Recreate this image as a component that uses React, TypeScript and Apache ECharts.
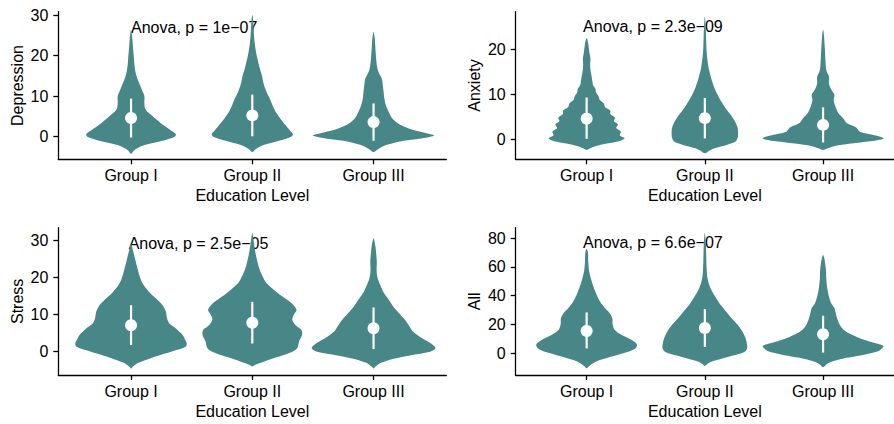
import React, { useEffect, useRef } from "react";
import * as echarts from "echarts";

// ---------- data ----------
const groups = ["Group I", "Group II", "Group III"];
const yTitles = ["Depression", "Anxiety", "Stress", "All"];
const xTitle = "Education Level";
const pLabels = ["Anova, p = 1e\u221207", "Anova, p = 2.3e\u221209", "Anova, p = 2.5e\u221205", "Anova, p = 6.6e\u221207"];
const labelX = [1, 0.97, 0.98, 0.97];
const labelY = [27, 25, 29, 76.8];
const yTicks = [[0, 10, 20, 30], [0, 10, 20], [0, 10, 20, 30], [0, 20, 40, 60, 80]];
const yRanges = [[-5.57, 30.82], [-4.44, 28.36], [-6.26, 33.33], [-15.34, 87.38]];

// violin profiles: [value, half-width in hundredths of a group spacing]
const depG1 = [[-4.2,0],[-3.5,2],[-3,4],[-2,12],[-1,26],[0,36],[0.6,37],[1.5,33],[3,26],[4.5,20],[6,14],[7,11.5],[8.5,11],[10,11],[11.5,9],[13,7],[14.5,5],[16,3.6],[18,2.7],[20,2.2],[22,1.6],[24,1.1],[26.3,0]];
const depG2 = [[-3.75,0],[-3,3],[-2,10],[-1,22],[0,32],[0.6,33.5],[1.5,31],[3,27],[4.5,23],[6,19.5],[7.5,17],[9,15],[10.5,12.5],[12,10.5],[13.5,9],[15,8],[16.5,6.5],[18,5.2],[19.5,4],[21,3],[23,2],[25,1.4],[27,1],[29,0.6],[30,0]];
const depG3 = [[-3.75,0],[-3,4],[-2,11],[-1,25],[-0.5,38],[0.3,50],[1,42],[1.7,32],[2.5,25],[3.3,20],[4.5,15.5],[5.8,13],[7.5,10.5],[9.2,9],[11,8.3],[12.5,7.7],[14.2,6.9],[15.2,5.3],[16.3,3.6],[17.5,2.8],[19,2.2],[21,1.7],[22.5,1.4],[24.5,0.9],[25.8,0]];

const anxG1 = [[-2.4,0],[-2,3],[-1.5,8],[-1,16],[-0.5,26],[0.2,32],[0.9,28],[1.7,29],[2.5,25],[3.3,26.5],[4,23],[4.8,24],[5.6,20],[6.4,20],[7.2,15.5],[8,14.5],[8.8,11],[9.6,10],[10.4,8],[11.2,7.5],[12,5.5],[13,4.8],[14,4.2],[15,3.5],[16,3],[17,3],[18,3.2],[19,2.5],[20,2],[21,1.5],[22,0.8],[22.5,0]];
const anxG2 = [[-3.1,0],[-2.5,4],[-2,8],[-1.2,19],[-0.5,26],[0.6,28],[2.8,27.5],[5,23],[7.3,16.5],[9.5,11.5],[11.7,7.7],[13.9,5],[16.1,3],[19.1,1.6],[22,1.1],[25,0.7],[27.3,0]];
const anxG3 = [[-2.4,0],[-2,4],[-1.5,10],[-1,22],[-0.5,38],[0.2,51],[1,42],[1.7,31],[2.6,28],[3.6,20],[4.7,17],[5.8,13],[7.3,10.5],[8.7,9],[9.9,9.6],[11,7],[12.4,5],[13.9,5],[15.4,2.7],[17.6,2],[20.6,1.4],[23,0.8],[24.4,0]];

const strG1 = [[-4.5,0],[-4,1.6],[-3,6],[-2,14],[-1,23],[0,33],[1.3,45],[2.2,46],[3.3,44.5],[4.5,42.5],[6.25,37],[7.6,31.6],[8.9,29.7],[10.7,28.8],[12.5,26],[14.3,20.6],[16,15],[18.3,9.6],[20.5,6.9],[22.8,5],[25,3.3],[27.2,1.6],[29,0]];
const strG2 = [[-4,0],[-3.6,2],[-3,7],[-2,15],[-1,24.7],[0,33],[0.9,37],[2.7,38.5],[4.5,41],[5.8,40.7],[7.1,35.7],[8.5,33],[9.8,34],[11.2,36.5],[12.5,34],[13.8,29.4],[15.2,23.4],[17,16.5],[18.75,11],[21,7.4],[23.2,5],[25.9,3],[28.6,1.6],[30.5,0.8],[32,0]];
const strG3 = [[-4.5,0],[-4,1.6],[-3,6],[-2,15],[-1,30],[0,46.7],[0.5,50],[1.1,51],[2.2,47.5],[3.6,40],[5.4,32.5],[7.1,29],[8.9,25],[10.7,20],[12.5,15.5],[14.3,11.8],[16,8.2],[17.9,5.5],[19.6,3.5],[21,2.7],[22.3,2.5],[24.1,2.7],[26.3,2.2],[28.6,1.4],[30.5,0]];

const allG1 = [[-10.6,0],[-9,2.2],[-6,8],[-3,19],[0,31.6],[3,41],[6,42.6],[9.4,37.4],[12.9,29],[16.3,23.6],[19.8,22],[24.4,21.7],[27.8,19.5],[31.3,15.4],[35.9,11.3],[40.5,8.5],[46.2,5.8],[52,3.6],[56.6,2.2],[63.4,1.4],[70.3,1.1],[72.6,0]];
const allG2 = [[-9,0],[-8,1.6],[-6,6],[-4,14],[-2,23],[0,31.6],[1,34],[3,35.7],[6,35.7],[10.6,34.3],[15.2,31.6],[19.8,27.5],[24.4,22.5],[29,17.9],[33.6,13.2],[38.2,9.6],[43.9,5.5],[48.5,3.3],[54.3,1.9],[61,1.4],[70.3,1.1],[77.2,0.8],[83.7,0]];
const allG3 = [[-10,0],[-8,2.7],[-6,7.7],[-4,16.5],[-2,30],[0,41],[2,48],[4.8,51],[7.1,43],[9.4,34],[12.9,24],[16.3,17.3],[19.8,14],[24.4,11.8],[29,10.4],[31.3,9.6],[34.7,6.9],[39.3,5],[45,3.6],[52,2.7],[57.7,2.5],[63.4,1.6],[66,1],[68.5,0]];

// mean, mean - sd, mean + sd
const depStats = [[4.6, -0.2, 9.4], [5.25, 0.1, 10.4], [3.6, -1, 8.2]];
const anxStats = [[4.7, 0.1, 9.3], [4.7, 0.2, 9.2], [3.2, -0.7, 7.1]];
const strStats = [[7.1, 1.8, 12.5], [7.8, 2.2, 13.4], [6.3, 0.7, 11.9]];
const allStats = [[15.7, 3.2, 28.3], [17.4, 4.2, 30.6], [13.1, 0.3, 26]];

const densities = [[depG1, depG2, depG3], [anxG1, anxG2, anxG3], [strG1, strG2, strG3], [allG1, allG2, allG3]];
const stats = [depStats, anxStats, strStats, allStats];

// ---------- layout / style ----------
const FONT = '"Liberation Sans", Arial, Helvetica, sans-serif';
const VIOLIN = "#478787";
const gridBoxes = [
  { left: 58.3, top: 11.7, width: 388, height: 147.6 },
  { left: 515.7, top: 11.7, width: 388, height: 147.6 },
  { left: 58.3, top: 227.7, width: 388, height: 147.3 },
  { left: 515.7, top: 227.7, width: 388, height: 147.3 },
];

function buildOption() {
  const grid: any[] = [];
  const xAxis: any[] = [];
  const yAxis: any[] = [];
  const series: any[] = [];
  for (let p = 0; p < 4; p++) {
    grid.push({ ...gridBoxes[p], containLabel: false });
    xAxis.push({
      type: "value",
      gridIndex: p,
      min: 0.4,
      max: 3.6,
      name: xTitle,
      nameLocation: "middle",
      nameGap: 28,
      nameTextStyle: { color: "#000", fontSize: 16, fontFamily: FONT },
      axisLine: { onZero: false, lineStyle: { color: "#000", width: 1.3 } },
      axisTick: { show: true, length: 5, customValues: [1, 2, 3], lineStyle: { color: "#000", width: 1.3 } },
      axisLabel: {
        customValues: [1, 2, 3],
        margin: 8,
        color: "#000",
        fontSize: 16,
        fontFamily: FONT,
        formatter: (v: number) => groups[Math.round(v) - 1] ?? "",
      },
      splitLine: { show: false },
    });
    yAxis.push({
      type: "value",
      gridIndex: p,
      min: yRanges[p][0],
      max: yRanges[p][1],
      name: yTitles[p],
      nameLocation: "middle",
      nameGap: 33,
      nameTextStyle: { color: "#000", fontSize: 16, fontFamily: FONT },
      axisLine: { show: true, onZero: false, lineStyle: { color: "#000", width: 1.3 } },
      axisTick: { show: true, length: 5, customValues: yTicks[p], lineStyle: { color: "#000", width: 1.3 } },
      axisLabel: {
        customValues: yTicks[p],
        margin: 10,
        color: "#000",
        fontSize: 16,
        fontFamily: FONT,
        formatter: (v: number) => String(v),
      },
      splitLine: { show: false },
    });
    // annotation
    series.push({
      type: "custom",
      xAxisIndex: p,
      yAxisIndex: p,
      z: 1,
      silent: true,
      data: [[labelX[p], labelY[p]]],
      renderItem: (params: any, api: any) => {
        const pt = api.coord([api.value(0), api.value(1)]);
        return {
          type: "text",
          x: pt[0],
          y: pt[1],
          style: {
            text: pLabels[p],
            fill: "#000",
            font: `16px ${FONT}`,
            align: "left",
            verticalAlign: "middle",
          },
        };
      },
    });
    // violins
    series.push({
      type: "custom",
      xAxisIndex: p,
      yAxisIndex: p,
      z: 2,
      silent: true,
      clip: false,
      data: groups.map((_, i) => [i + 1, stats[p][i][0]]),
      renderItem: (params: any, api: any) => {
        const i = params.dataIndex;
        const cx = api.value(0);
        const dens = densities[p][i];
        const right = dens.map(([v, hw]) => api.coord([cx + hw / 100, v]));
        const left = dens
          .slice(1, -1)
          .reverse()
          .map(([v, hw]) => api.coord([cx - hw / 100, v]));
        const pts = right.concat(left);
        const [m, lo, hi] = stats[p][i];
        const c = api.coord([cx, m]);
        const a = api.coord([cx, lo]);
        const b = api.coord([cx, hi]);
        return {
          type: "group",
          children: [
            { type: "polygon", shape: { points: pts, smooth: 0.3 }, style: { fill: VIOLIN, stroke: null } },
            { type: "line", shape: { x1: a[0], y1: a[1], x2: b[0], y2: b[1] }, style: { stroke: "#fff", lineWidth: 2.2 } },
            { type: "circle", shape: { cx: c[0], cy: c[1], r: 6 }, style: { fill: "#fff" } },
          ],
        };
      },
    });
  }
  return {
    animation: false,
    backgroundColor: "#fff",
    grid,
    xAxis,
    yAxis,
    series,
  };
}

export default function App() {
  const ref = useRef<HTMLDivElement>(null);
  useEffect(() => {
    document.body.style.margin = "0";
    if (!ref.current) return;
    const chart = echarts.init(ref.current, undefined, { renderer: "svg" });
    chart.setOption(buildOption() as any);
    return () => chart.dispose();
  }, []);
  return <div ref={ref} style={{ width: 894, height: 424, overflow: "hidden" }} />;
}
